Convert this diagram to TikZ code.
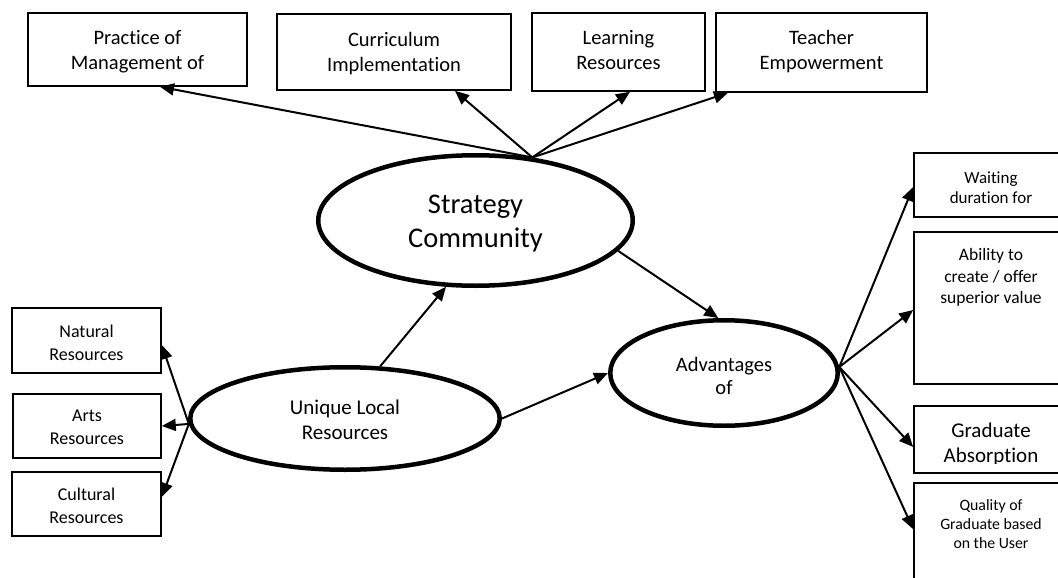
\documentclass[tikz,border=0pt]{standalone}
\usepackage{fontspec}
\setmainfont{Carlito}[Ligatures={NoCommon,NoContextual}]
\usetikzlibrary{shapes.geometric,arrows.meta}
\begin{document}
\begin{tikzpicture}[x=1pt,y=-1pt,
  box/.style={draw, line width=1.6pt, inner sep=0pt},
  oval/.style={ellipse, draw, line width=4.5pt, inner sep=0pt},
  link/.style={-{Triangle[length=14pt,width=12pt]}, line width=2pt},
  label text/.style={anchor=north, inner sep=0pt, align=center},
  topfont/.style={font=\fontsize{20.5}{25}\selectfont},
  leftfont/.style={font=\fontsize{18}{22.5}\selectfont}]
\useasboundingbox (0,0) rectangle (1058,578);
\clip (0,0) rectangle (1058,578);

% central ovals
\node[oval, minimum width=314.5pt, minimum height=130.5pt] (S) at (475.5,220.5) {};
\node[label text, font=\fontsize{28.5}{34}\selectfont] (St) at ([yshift=31pt]S.center)
  {\strut Strategy\\Community};
\node[oval, minimum width=309.5pt, minimum height=102.5pt] (U) at (345,418.5) {};
\node[label text, font=\fontsize{21}{25}\selectfont] (Ut) at ([yshift=22pt]U.center)
  {\strut Unique Local\\Resources};
\node[oval, minimum width=227.5pt, minimum height=105.5pt] (A) at (724,373) {};
\node[label text, font=\fontsize{20.5}{23}\selectfont] (At) at ([yshift=18pt]A.center)
  {\strut Advantages\\of};

% top row
\node[box, minimum width=219pt, minimum height=73pt] (P) at (137.5,49.5) {};
\node[label text, topfont] (Pt) at ([yshift=-15.1pt]P.north) {\strut Practice of\\Management of};
\node[box, minimum width=234pt, minimum height=76pt] (C) at (394,52) {};
\node[label text, topfont] (Ct) at ([yshift=-15.8pt]C.north) {\strut Curriculum\\Implementation};
\node[box, minimum width=173pt, minimum height=78pt] (L) at (618.5,52) {};
\node[label text, topfont] (Lt) at ([yshift=-15pt]L.north) {\strut Learning\\Resources};
\node[box, minimum width=211pt, minimum height=79pt] (T) at (821.5,52.5) {};
\node[label text, topfont] (Tt) at ([yshift=-15pt]T.north) {\strut Teacher\\Empowerment};

% left column
\node[box, minimum width=149pt, minimum height=65pt] (N) at (86.5,340.5) {};
\node[label text, leftfont] (Nt) at ([yshift=-14.7pt]N.north) {\strut Natural\\Resources};
\node[box, minimum width=148pt, minimum height=64pt] (Ar) at (87,426) {};
\node[label text, leftfont] (Art) at ([yshift=-12.8pt]Ar.north) {\strut Arts\\Resources};
\node[box, minimum width=149pt, minimum height=64pt] (Cu) at (86.5,504) {};
\node[label text, leftfont] (Cut) at ([yshift=-13.8pt]Cu.north) {\strut Cultural\\Resources};

% right column
\node[box, minimum width=154pt, minimum height=64pt] (W) at (991,185) {};
\node[label text, font=\fontsize{17}{20}\selectfont] (Wt) at ([yshift=-17pt]W.north)
  {\strut Waiting\\duration for};
\node[box, minimum width=154pt, minimum height=152pt] (Ab) at (991,308) {};
\node[label text, font=\fontsize{17.5}{21.3}\selectfont] (Abt) at ([yshift=-14.6pt]Ab.north)
  {\strut Ability to\\create / offer\\superior value};
\node[box, minimum width=154pt, minimum height=67pt] (G) at (991,439.5) {};
\begin{scope}
  \clip (G.north west) rectangle ([yshift=10.8pt]G.south east);
  \node[label text, font=\fontsize{21}{25}\selectfont] (Gt) at ([yshift=-14.3pt]G.north)
    {\strut Graduate\\Absorption};
\end{scope}
\node[box, minimum width=154pt, minimum height=137pt] (Q) at (991,551.5) {};
\node[label text, font=\fontsize{15.8}{19}\selectfont] (Qt) at ([yshift=-14.5pt]Q.north)
  {\strut Quality of\\Graduate based\\on the User};

% connectors
\draw[link] (S.48) -- ([xshift=22.5pt]P.south);
\draw[link] (S.48) -- ([xshift=61pt]C.south);
\draw[link] (S.48) -- ([xshift=11.5pt]L.south);
\draw[link] (S.48) -- ([xshift=-93.5pt]T.south);

\draw[link] (S.-12) -- (A.96);
\draw[link] (U.56) -- (S.246);
\draw[link] (U.east) -- (A.west);

\draw[link] (U.182) -- ([yshift=-4.5pt]N.east);
\draw[link] (U.182) -- (Ar.east);
\draw[link] (U.182) -- ([yshift=7pt]Cu.east);

\draw[link] (A.3) -- ([yshift=-2pt]W.west);
\draw[link] (A.3) -- ([yshift=-2pt]Ab.west);
\draw[link] (A.3) -- ([yshift=-7.5pt]G.west);
\draw[link] (A.3) -- ([yshift=-47pt]Q.north west);
\end{tikzpicture}
\end{document}
